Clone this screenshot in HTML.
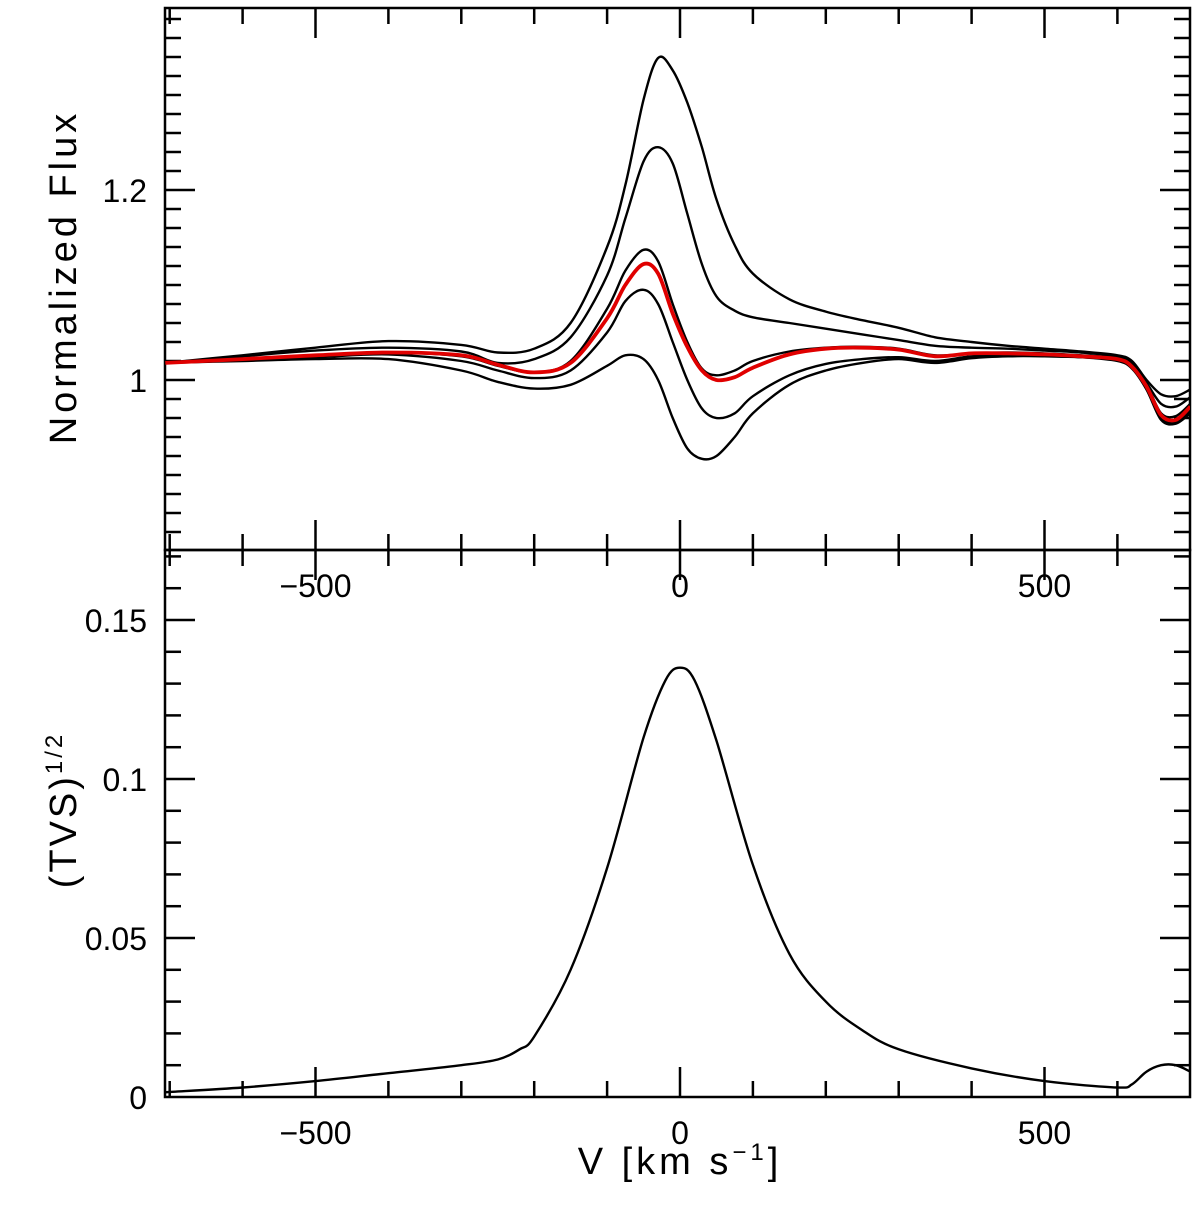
<!DOCTYPE html>
<html><head><meta charset="utf-8"><style>
body{margin:0;background:#fff}
svg{display:block}
text{font-family:"Liberation Sans",sans-serif;fill:#000}
</style></head><body>
<svg id="c" width="1200" height="1205"></svg>
<script>
const velocities=[-706,-600,-500,-400,-300,-250,-200,-150,-100,-75,-50,-30,-10,10,30,50,75,100,150,200,250,300,350,400,450,500,550,600,620,640,660,680,700];
const fluxA=[1.018,1.026,1.034,1.041,1.037,1.029,1.033,1.060,1.140,1.205,1.295,1.339,1.326,1.292,1.245,1.190,1.142,1.112,1.085,1.072,1.063,1.055,1.045,1.040,1.036,1.033,1.030,1.026,1.020,1.000,0.985,0.983,0.990];
const fluxB=[1.018,1.025,1.031,1.034,1.030,1.018,1.022,1.045,1.110,1.170,1.230,1.245,1.228,1.175,1.122,1.088,1.073,1.066,1.060,1.054,1.048,1.042,1.036,1.034,1.033,1.031,1.029,1.025,1.018,0.997,0.975,0.972,0.982];
const fluxC=[1.018,1.022,1.026,1.029,1.025,1.015,1.008,1.020,1.075,1.115,1.137,1.125,1.080,1.040,1.012,1.005,1.010,1.020,1.030,1.034,1.035,1.033,1.026,1.028,1.029,1.028,1.026,1.023,1.015,0.995,0.965,0.962,0.975];
const fluxD=[1.018,1.021,1.024,1.027,1.020,1.010,1.002,1.010,1.050,1.083,1.095,1.080,1.040,1.000,0.970,0.960,0.965,0.983,1.005,1.017,1.022,1.024,1.020,1.025,1.026,1.025,1.024,1.021,1.013,0.990,0.960,0.955,0.968];
const fluxE=[1.018,1.020,1.022,1.022,1.010,0.998,0.991,0.995,1.015,1.026,1.022,1.000,0.960,0.928,0.917,0.920,0.940,0.965,0.995,1.010,1.018,1.022,1.018,1.023,1.025,1.025,1.024,1.020,1.012,0.990,0.958,0.954,0.965];
const fluxMean=[1.018,1.022,1.026,1.029,1.026,1.016,1.008,1.018,1.065,1.100,1.122,1.112,1.070,1.035,1.010,1.000,1.003,1.013,1.027,1.033,1.034,1.032,1.025,1.028,1.028,1.027,1.025,1.022,1.014,0.993,0.963,0.958,0.972];
const tvsV=[-706,-600,-500,-400,-300,-250,-220,-200,-150,-100,-50,-20,0,20,50,100,150,200,250,300,400,500,600,620,640,660,680,700];
const tvsVals=[0.0015,0.003,0.005,0.0075,0.010,0.0118,0.0150,0.019,0.040,0.072,0.113,0.131,0.135,0.131,0.112,0.073,0.045,0.030,0.021,0.015,0.009,0.005,0.003,0.004,0.008,0.010,0.010,0.008];
const xTickLabels=[-500,0,500];
const topYLabels=[1,1.2];
const botYLabels=[0,0.05,0.1,0.15];

const NS="http://www.w3.org/2000/svg";
const svg=document.getElementById('c');
const L=165,R=1190,T=8,M=550,B=1097;
const X=v=>680+(v)*0.729;
const Y1=f=>380-(f-1)*950;
const Y2=t=>1097-t*3180;
function el(tag,attrs,parent){const e=document.createElementNS(NS,tag);for(const k in attrs)e.setAttribute(k,attrs[k]);(parent||svg).appendChild(e);return e;}
function smooth(pts){let d=`M${pts[0][0]},${pts[0][1]}`;for(let i=0;i<pts.length-1;i++){const p0=pts[Math.max(0,i-1)],p1=pts[i],p2=pts[i+1],p3=pts[Math.min(pts.length-1,i+2)];
const c1=[p1[0]+(p2[0]-p0[0])/6,p1[1]+(p2[1]-p0[1])/6],c2=[p2[0]-(p3[0]-p1[0])/6,p2[1]-(p3[1]-p1[1])/6];
d+=` C${c1[0].toFixed(1)},${c1[1].toFixed(1)} ${c2[0].toFixed(1)},${c2[1].toFixed(1)} ${p2[0].toFixed(1)},${p2[1].toFixed(1)}`;}return d;}
const clip=el('clipPath',{id:'cl'},el('defs',{}));el('rect',{x:L,y:T,width:R-L,height:B-T},clip);

let f1=el('rect',{x:L,y:T,width:R-L,height:M-T,fill:'none',stroke:'#000','stroke-width':2.5});

let f2=el('rect',{x:L,y:M,width:R-L,height:B-M,fill:'none',stroke:'#000','stroke-width':2.5});


for(let v=-700;v<=700;v+=100){const x=X(v);if(x<L+1||x>R-1)continue;const maj=v%500===0;const len=maj?30:16;
for(const [y0,y1] of [[T,M],[M,B]]){
let t=el('line',{x1:x,y1:y0,x2:x,y2:y0+len,stroke:'#000','stroke-width':2.5});
t=el('line',{x1:x,y1:y1,x2:x,y2:y1-len,stroke:'#000','stroke-width':2.5});}}
for(let k=-10;k<=20;k++){const f=1+k*0.02;const y=Y1(f);if(y<T+2||y>M-2)continue;const maj=k%10===0;const len=maj?30:16;
let t=el('line',{x1:L,y1:y,x2:L+len,y2:y,stroke:'#000','stroke-width':2.5});
t=el('line',{x1:R,y1:y,x2:R-len,y2:y,stroke:'#000','stroke-width':2.5});}
for(let k=0;k<=17;k++){const t0=k*0.01;const y=Y2(t0);if(y<M+2||y>B-2)continue;const maj=k%5===0;const len=maj?30:16;
let t=el('line',{x1:L,y1:y,x2:L+len,y2:y,stroke:'#000','stroke-width':2.5});
t=el('line',{x1:R,y1:y,x2:R-len,y2:y,stroke:'#000','stroke-width':2.5});}

function txt(s,x,y,anchor,name,extra){const t=el('text',Object.assign({x:x,y:y,'text-anchor':anchor,'font-size':32},extra||{}));t.textContent=s;return t;}
const fmt=v=>v<0?'\u2212'+Math.abs(v):String(v);
xTickLabels.forEach(v=>{txt(fmt(v),X(v),597,'middle','top-x-tick-label');txt(fmt(v),X(v),1144,'middle','bottom-x-tick-label');});
topYLabels.forEach(f=>txt(String(f),147,Y1(f)+12,'end','top-y-tick-label'));
botYLabels.forEach(v=>txt(String(v),147,Y2(v)+12,'end','bottom-y-tick-label'));
txt('Normalized Flux',0,0,'middle','top-y-axis-title',{transform:'translate(76,277) rotate(-90)','font-size':38,'letter-spacing':'4'});
let yt=txt('(TVS)',0,0,'middle','bottom-y-axis-title',{transform:'translate(76,810) rotate(-90)','font-size':38,'letter-spacing':'3'});
const ts=el('tspan',{'font-size':24,dy:-14},yt);ts.textContent='1/2';
let xt=txt('V [km s',680,1174,'middle','x-axis-title',{'font-size':38,'letter-spacing':'4'});
const s1=el('tspan',{'font-size':24,dy:-14},xt);s1.textContent='\u22121';
const s2=el('tspan',{dy:14},xt);s2.textContent=']';

const g=el('g',{'clip-path':'url(#cl)'});
const series=[['spectrum-a',fluxA],['spectrum-b',fluxB],['spectrum-c',fluxC],['spectrum-d',fluxD],['spectrum-e',fluxE]];
series.forEach(([n,arr])=>{const p=el('path',{d:smooth(velocities.map((v,i)=>[X(v),Y1(arr[i])])),fill:'none',stroke:'#000','stroke-width':2.4},g);
});
const mp=el('path',{d:smooth(velocities.map((v,i)=>[X(v),Y1(fluxMean[i])])),fill:'none',stroke:'#e00000','stroke-width':3.8},g);

const tp=el('path',{d:smooth(tvsV.map((v,i)=>[X(v),Y2(tvsVals[i])])),fill:'none',stroke:'#000','stroke-width':2.4},g);

</script>
</body></html>
